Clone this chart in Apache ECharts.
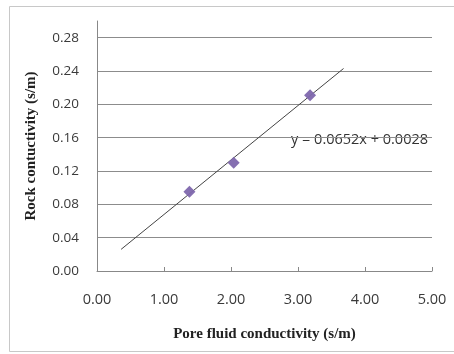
<!DOCTYPE html>
<html>
<head>
<meta charset="utf-8">
<script src="https://cdn.jsdelivr.net/npm/echarts@6/dist/echarts.min.js"></script>
<style>
  html, body { margin: 0; padding: 0; background: #fff; }
  #chart { width: 454px; height: 354px; }
</style>
</head>
<body>
<div id="chart"></div>
<script>
// measured points (pore fluid vs rock conductivity, s/m)
var poreFluid = [1.38, 2.04, 3.18];
var rockCond = [0.095, 0.130, 0.211];
// linear trendline ends
var trendX = [0.36, 3.68];
var trendY = [0.026, 0.243];
var trendLabel = 'y = 0.0652x + 0.0028';

var labelFont = '"Open Sans", sans-serif';
var titleFont = '"Liberation Serif", "Times New Roman", serif';

var points = poreFluid.map(function(x, i){ return [x, rockCond[i]]; });
var trend = trendX.map(function(x, i){ return [x, trendY[i]]; });

var chart = echarts.init(document.getElementById('chart'));
chart.setOption({
    animation: false,
    backgroundColor: '#fff',
    grid: { left: 97, right: 22, top: 21, bottom: 83 },
    xAxis: {
        type: 'value',
        min: 0, max: 5, interval: 1,
        name: 'Pore fluid conductivity (s/m)',
        nameLocation: 'middle',
        nameGap: 56,
        nameTextStyle: { fontFamily: titleFont, fontWeight: 'bold', fontSize: 15, color: '#222' },
        axisLine: { lineStyle: { color: '#888', width: 1 } },
        axisTick: { show: true, inside: true, length: 4, lineStyle: { color: '#888' } },
        splitLine: { show: false },
        axisLabel: {
            margin: 21, fontSize: 14.5, color: '#3a3a3a', fontFamily: labelFont,
            formatter: function(v){ return v.toFixed(2); }
        }
    },
    yAxis: {
        type: 'value',
        min: 0, max: 0.30, interval: 0.04,
        name: 'Rock contuctivity (s/m)',
        nameLocation: 'middle',
        nameGap: 58,
        nameTextStyle: { fontFamily: titleFont, fontWeight: 'bold', fontSize: 15, color: '#222' },
        axisLine: { show: true, lineStyle: { color: '#888', width: 1 } },
        axisTick: { show: false },
        splitLine: { show: true, showMaxLine: false, lineStyle: { color: '#8c8c8c', width: 1 } },
        axisLabel: {
            margin: 18, fontSize: 13.5, color: '#3a3a3a', fontFamily: labelFont,
            showMaxLabel: false,
            formatter: function(v){ return v > 0.29 ? '' : v.toFixed(2); }
        }
    },
    series: [
        {
            type: 'line',
            data: trend,
            symbol: 'none',
            lineStyle: { color: '#444', width: 1 },
            z: 2
        },
        {
            type: 'scatter',
            data: points,
            symbol: 'diamond',
            symbolSize: [12, 12],
            itemStyle: { color: '#7e67ad', opacity: 0.95 },
            z: 3
        }
    ],
    graphic: [
        {
            type: 'rect',
            shape: { x: 9.5, y: 6.5, width: 460, height: 345 },
            style: { fill: 'none', stroke: '#c8c8c8', lineWidth: 1 },
            silent: true
        },
        {
            type: 'text',
            left: 291, top: 132,
            style: { text: trendLabel, fontSize: 14.5, fill: '#333', fontFamily: labelFont }
        }
    ]
});
</script>
</body>
</html>
